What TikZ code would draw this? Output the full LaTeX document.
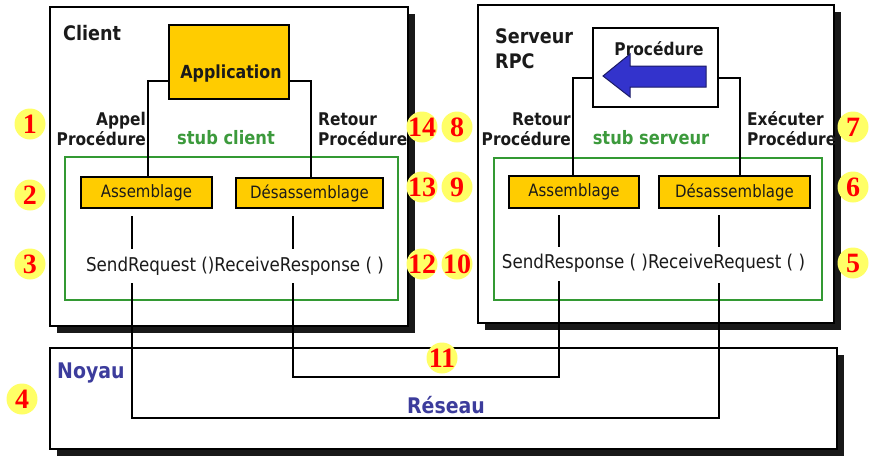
\documentclass[tikz,border=0pt]{standalone}
\usepackage{fontspec}
\setmainfont{DejaVu Sans}[FakeStretch=0.88]
\newfontfamily\numfont{Liberation Serif}
\usetikzlibrary{shadows}
\definecolor{gold}{HTML}{FFCC00}
\definecolor{stubgreen}{HTML}{339933}
\definecolor{stubtext}{HTML}{3C9A3C}
\definecolor{kblue}{HTML}{3C3C9C}
\definecolor{arrowblue}{HTML}{3333CC}
\definecolor{navy}{HTML}{1A1A66}
\definecolor{numyellow}{HTML}{FFFF66}
\definecolor{ink}{HTML}{1A1A1A}
\newcommand\lblf{\bfseries\fontsize{17.5}{20}\selectfont}
\newcommand\boxf{\fontsize{17}{18}\selectfont}
\newcommand\callf{\fontsize{19}{21}\selectfont}
\newcommand\nb[1]{\makebox[0pt]{#1}}
\begin{document}
\begin{tikzpicture}[x=1pt,y=-1pt,
  frame/.style={rectangle, draw=black, line width=2.5pt, fill=white, inner sep=0pt,
    drop shadow={shadow xshift=7pt, shadow yshift=-7pt, fill=black!90, opacity=1}},
  ybox/.style={rectangle, draw=black, line width=2.5pt, fill=gold, inner sep=0pt, text=ink, font=\boxf},
  stubbox/.style={rectangle, draw=stubgreen, line width=2pt, inner sep=0pt},
  wire/.style={line width=2pt, draw=black},
  lbl/.style={font=\lblf, text=ink, inner sep=0pt},
  stubl/.style={font=\bfseries\fontsize{18.5}{20}\selectfont, text=stubtext, inner sep=0pt},
  kern/.style={font=\bfseries\fontsize{21.5}{24}\selectfont, text=kblue, inner sep=0pt},
  call/.style={font=\callf, text=ink, inner sep=0pt},
  numc/.style={circle, fill=numyellow, minimum size=31pt, inner sep=0pt, text=red,
    font=\numfont\bfseries\fontsize{28}{28}\selectfont}
]
\useasboundingbox (0,0) rectangle (870,458);

% main frames
\node[frame, minimum width=358pt, minimum height=319pt] (client) at (229,166.5) {};
\node[frame, minimum width=356pt, minimum height=318pt] (server) at (656,164) {};
\node[frame, minimum width=787pt, minimum height=101pt] (noyau) at (443.5,398.5) {};

% stub boxes
\node[stubbox, minimum width=333pt, minimum height=143pt] (stubC) at (231.5,228.5) {};
\node[stubbox, minimum width=328pt, minimum height=142pt] (stubS) at (658,229) {};

% top boxes
\node[ybox, minimum width=120pt, minimum height=74pt,
  label={[font=\bfseries\fontsize{18}{20}\selectfont, text=ink, xshift=2pt, yshift=-12pt]center:Application}] (app) at (229,62) {};
\node[rectangle, draw=black, line width=2.5pt, fill=white, inner sep=0pt,
  minimum width=125pt, minimum height=79pt,
  label={[lbl, xshift=3.5pt, yshift=19pt]center:Procédure}] (proc) at (655.5,67.5) {};
\draw[fill=arrowblue, draw=navy, line width=1pt]
  (706,66) -- (630,66) -- (630,54) -- (603,76) -- (630,97) -- (630,87) -- (706,87) -- cycle;

% marshalling boxes
\node[ybox, minimum width=131pt, minimum height=31pt] (asmC) at (146.5,192.5) {Assemblage};
\node[ybox, minimum width=147pt, minimum height=30pt] (desC) at (309.5,193) {Désassemblage};
\node[ybox, minimum width=130pt, minimum height=32pt] (asmS) at (574,192) {Assemblage};
\node[ybox, minimum width=151pt, minimum height=32pt] (desS) at (734.5,192) {Désassemblage};

% texts
\node[font=\bfseries\fontsize{20}{22}\selectfont, text=ink, inner sep=0pt, anchor=west] (tclient) at (63,33) {Client};
\node[font=\bfseries\fontsize{20}{25}\selectfont, text=ink, inner sep=0pt, anchor=north west, align=left] (tserver) at (495,28) {Serveur\\RPC};
\node[lbl, align=right, anchor=east] (appel) at (146,129) {Appel\\Procédure};
\node[lbl, align=left, anchor=west] (retC) at (318,129) {Retour\\Procédure};
\node[lbl, align=right, anchor=east] (retS) at (571,129) {Retour\\Procédure};
\node[lbl, align=left, anchor=west] (exec) at (747,129) {Exécuter\\Procédure};
\node[stubl] (tstubC) at (226,138) {stub client};
\node[stubl] (tstubS) at (651,138) {stub serveur};
\node[call] (callC) at (235,266) {SendRequest ()ReceiveResponse ( )};
\node[call] (callS) at (653.5,263) {SendResponse ( )ReceiveRequest ( )};
\node[kern, anchor=west] (tnoyau) at (57,373) {Noyau};
\node[kern] (treseau) at (446,405) {Réseau};

% connectors from application / procedure
\draw[wire] ([yshift=-19pt]app.west) -| ([xshift=1.5pt]asmC.north);
\draw[wire] ([yshift=-19pt]app.east) -| ([xshift=1.5pt]desC.north);
\draw[wire] ([yshift=-10.5pt]proc.west) -| ([xshift=-1pt]asmS.north);
\draw[wire] ([yshift=-10.5pt]proc.east) -| ([xshift=5.5pt]desS.north);

% coordinates for the call lines
\coordinate (ca1) at (132,216); \coordinate (ca2) at (132,249);
\coordinate (ca3) at (132,283); \coordinate (ca4) at (132,418);
\coordinate (cd1) at (293,216); \coordinate (cd2) at (293,249);
\coordinate (cd3) at (293,283); \coordinate (cd4) at (293,377);
\coordinate (sa1) at (559,215); \coordinate (sa2) at (559,247);
\coordinate (sa3) at (559,281); \coordinate (sa4) at (559,377);
\coordinate (sd1) at (719,215); \coordinate (sd2) at (719,247);
\coordinate (sd3) at (719,283); \coordinate (sd4) at (719,418);

\draw[wire] (ca1) -- (ca2);
\draw[wire] (cd1) -- (cd2);
\draw[wire] (sa1) -- (sa2);
\draw[wire] (sd1) -- (sd2);
\draw[wire] (ca3) -- (ca4) -- (sd4) -- (sd3);
\draw[wire] (cd3) -- (cd4) -- (sa4) -- (sa3);

% numbered circles
\node[numc] (n1) at (30,124) {\nb{1}};
\node[numc] (n2) at (30,195) {\nb{2}};
\node[numc] (n3) at (30,264) {\nb{3}};
\node[numc] (n4) at (22,399) {\nb{4}};
\node[numc] (n14) at (422,127) {\nb{14}};
\node[numc] (n13) at (422,187) {\nb{13}};
\node[numc] (n12) at (422,264) {\nb{12}};
\node[numc] (n8) at (457,127) {\nb{8}};
\node[numc] (n9) at (457,187) {\nb{9}};
\node[numc] (n10) at (457,264) {\nb{10}};
\node[numc] (n7) at (853,127) {\nb{7}};
\node[numc] (n6) at (853,187) {\nb{6}};
\node[numc] (n5) at (853,263) {\nb{5}};
\node[numc] (n11) at (442,358) {\nb{11}};
\end{tikzpicture}
\end{document}
